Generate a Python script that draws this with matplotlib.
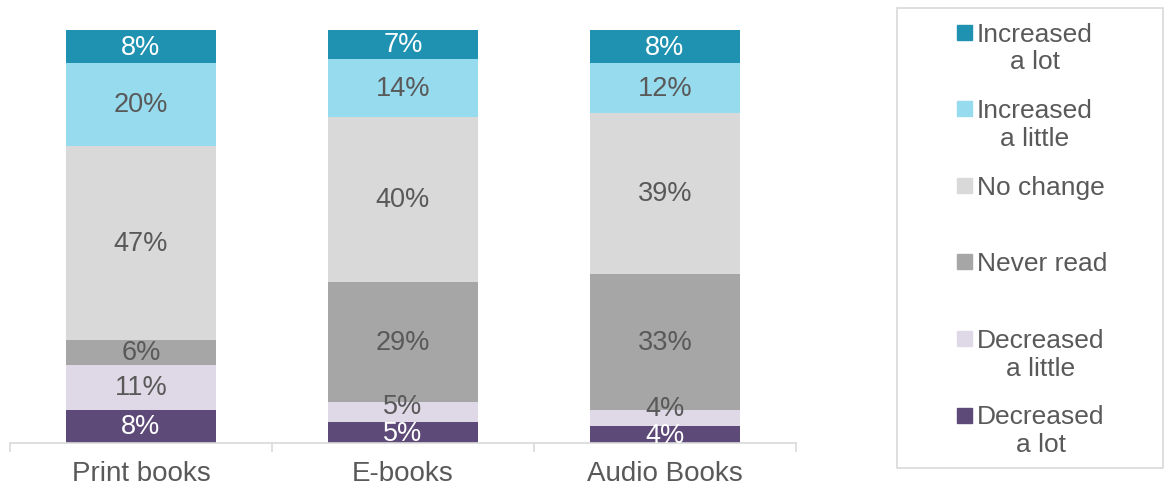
import matplotlib.pyplot as plt
import numpy as np
from matplotlib.patches import Rectangle

plt.rcParams['font.family'] = ['Liberation Sans', 'DejaVu Sans']

categories = ["Print books", "E-books", "Audio Books"]
# stacked from bottom to top
series = ["Decreased\na lot", "Decreased\na little", "Never read", "No change",
          "Increased\na little", "Increased\na lot"]
values = {
    "Decreased\na lot": [8, 5, 4],
    "Decreased\na little": [11, 5, 4],
    "Never read": [6, 29, 33],
    "No change": [47, 40, 39],
    "Increased\na little": [20, 14, 12],
    "Increased\na lot": [8, 7, 8],
}
colors = {
    "Decreased\na lot": "#5D4A78",
    "Decreased\na little": "#DFD9E7",
    "Never read": "#A6A6A6",
    "No change": "#D9D9D9",
    "Increased\na little": "#97DBEE",
    "Increased\na lot": "#1F92B1",
}
label_colors = {
    "Decreased\na lot": "white",
    "Decreased\na little": "#595959",
    "Never read": "#595959",
    "No change": "#595959",
    "Increased\na little": "#595959",
    "Increased\na lot": "white",
}

fig = plt.figure(figsize=(11.65, 4.85), dpi=100)
ax = fig.add_axes([10 / 1165, 1 - 444 / 485, 786 / 1165, 413 / 485])

x = np.arange(len(categories))
bottom = np.zeros(len(categories))
prev_label = np.full(len(categories), -100.0)
for s in series:
    v = np.array(values[s], dtype=float)
    ax.bar(x, v, 0.573, bottom=bottom, color=colors[s])
    for j, (xi, b, vi) in enumerate(zip(x, bottom, v)):
        yl = b + vi / 2
        # push thin-segment labels apart so they don't sit on each other
        yl = max(yl, prev_label[j] + 6.5)
        prev_label[j] = yl
        ax.text(xi, yl, f"{int(vi)}%", ha="center", va="center",
                fontsize=19.5, color=label_colors[s])
    bottom += v

ax.set_xlim(-0.5, 2.5)
ax.set_ylim(0, 100)
ax.set_yticks([])
ax.set_xticks(x)
ax.set_xticklabels(categories, fontsize=20, color="#595959")
ax.set_xticks([-0.5, 0.5, 1.5, 2.5], minor=True)
ax.tick_params(axis="x", which="major", length=0, pad=12)
ax.tick_params(axis="x", which="minor", length=6.5, color="#D9D9D9", width=1.2)
for sp in ["top", "left", "right"]:
    ax.spines[sp].set_visible(False)
ax.spines["bottom"].set_color("#D9D9D9")
ax.spines["bottom"].set_linewidth(1.2)

# legend drawn by hand, like the Excel one
W, H = 1165, 485
fig.patches.append(Rectangle((897 / W, 1 - 469 / H), 266 / W, 460 / H,
                             transform=fig.transFigure, fill=False,
                             edgecolor="#D9D9D9", linewidth=1.2))
legend_order = series[::-1]
for i, s in enumerate(legend_order):
    y_first = 33 + i * 76.6
    fig.patches.append(Rectangle((957 / W, 1 - (y_first + 7.5) / H), 15 / W, 15 / H,
                                 transform=fig.transFigure, color=colors[s]))
    fig.text(977 / W, 1 - (y_first - 10.5) / H, s, ha="left", va="top",
             multialignment="center", fontsize=19, color="#595959",
             linespacing=1.2)

fig.savefig("out.png", dpi=100)
